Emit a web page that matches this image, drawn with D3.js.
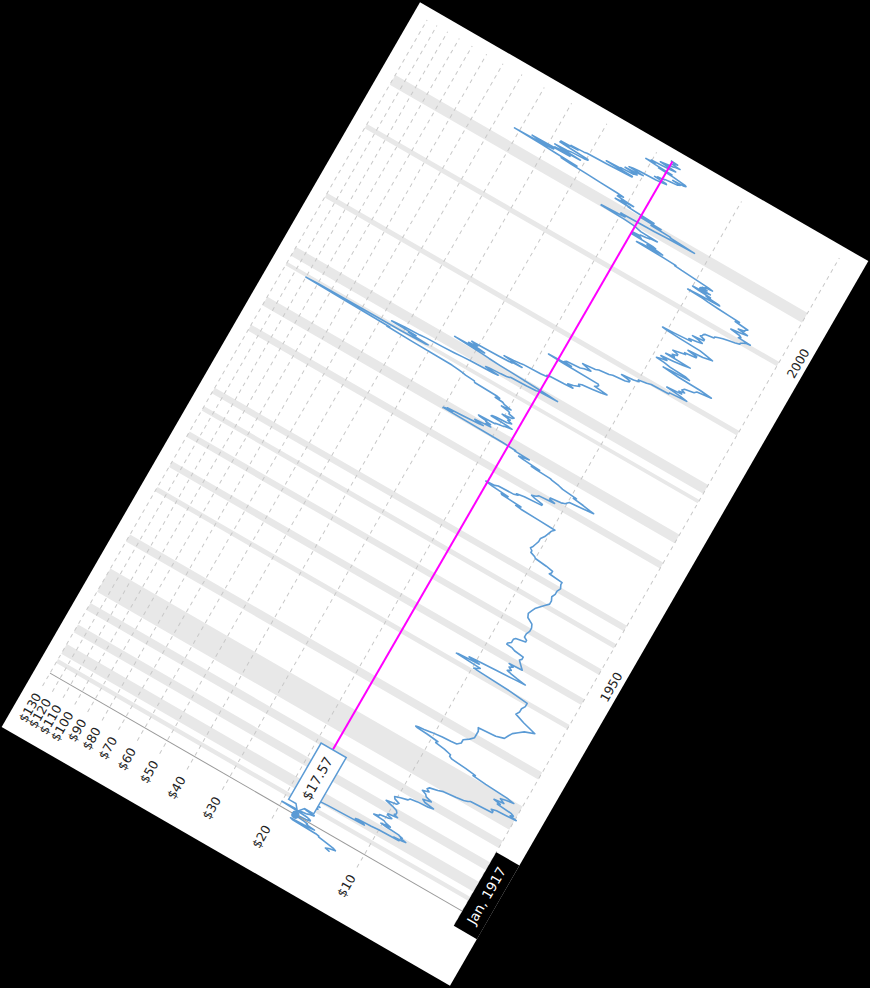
<!DOCTYPE html>
<html><head><meta charset="utf-8">
<script src="https://cdn.jsdelivr.net/npm/d3@7"></script>
<style>html,body{margin:0;padding:0;background:#000;overflow:hidden}</style>
</head><body>
<svg id="c" width="870" height="988"></svg>
<script>
const dates = [
"1915-01","1915-03","1915-05","1915-07","1915-09","1915-11",
"1916-01","1916-02","1916-03","1916-04","1916-05","1916-06","1916-07","1916-08","1916-09","1916-10","1916-11","1916-12",
"1917-01","1917-02","1917-03","1917-04","1917-05","1917-06","1917-07","1917-08","1917-09","1917-10","1917-11","1917-12",
"1918-01","1918-02","1918-03","1918-04","1918-05","1918-06","1918-07","1918-08","1918-09","1918-10","1918-11","1918-12",
"1919-01","1919-03","1919-05","1919-06","1919-07","1919-08","1919-09","1919-10","1919-11","1919-12",
"1920-01","1920-02","1920-03","1920-04","1920-05","1920-06","1920-07","1920-08","1920-09","1920-10","1920-11","1920-12",
"1921-01","1921-02","1921-03","1921-04","1921-05","1921-06","1921-07","1921-08","1921-09","1921-10","1921-11","1921-12",
"1922-02","1922-04","1922-05","1922-07","1922-09","1922-11",
"1923-01","1923-03","1923-05","1923-07","1923-09","1923-11",
"1924-01","1924-04","1924-07","1924-10",
"1925-01","1925-04","1925-07","1925-10",
"1926-01","1926-04","1926-07","1926-09","1926-10","1926-12",
"1927-02","1927-05","1927-08","1927-11",
"1928-02","1928-05","1928-08","1928-11",
"1929-02","1929-05","1929-08","1929-10","1929-12",
"1930-02","1930-04","1930-06","1930-08","1930-10","1930-12",
"1931-01","1931-02","1931-04","1931-06","1931-08","1931-10","1931-12",
"1932-02","1932-04","1932-06","1932-08","1932-10","1932-12",
"1933-02","1933-04","1933-06","1933-08","1933-10","1933-12",
"1934-02","1934-05","1934-08","1934-10","1934-12",
"1935-01","1935-03","1935-04","1935-05","1935-06","1935-07","1935-09","1935-11","1935-12",
"1936-01","1936-06","1936-12",
"1937-06","1937-12",
"1938-06","1938-12",
"1939-05","1939-07","1939-11",
"1940-06","1940-12",
"1941-06","1941-12",
"1942-06","1942-12",
"1943-06","1943-12",
"1944-06","1944-12",
"1945-06","1945-09","1945-12",
"1946-02","1946-05","1946-07","1946-08","1946-10","1946-12",
"1947-01","1947-03","1947-05","1947-06","1947-08","1947-10","1947-12",
"1948-03","1948-06","1948-09","1948-11","1948-12",
"1949-03","1949-06","1949-09","1949-12",
"1950-03","1950-07","1950-09","1950-11","1950-12",
"1951-02","1951-06","1951-09","1951-12",
"1952-03","1952-06","1952-09","1952-12",
"1953-06","1953-12",
"1954-06","1954-12",
"1955-06","1955-12",
"1956-06","1956-12",
"1957-06","1957-12",
"1958-06","1958-12",
"1959-06","1959-12",
"1960-06","1960-12",
"1961-06","1961-10","1961-12",
"1962-03","1962-06","1962-08","1962-10","1962-12",
"1963-03","1963-06","1963-09","1963-12",
"1964-06","1964-12",
"1965-06","1965-12",
"1966-06","1966-12",
"1967-03","1967-05","1967-06","1967-07","1967-08","1967-10","1967-12",
"1968-01","1968-02","1968-04","1968-06","1968-07","1968-09","1968-10","1968-12",
"1969-01","1969-03","1969-05","1969-07","1969-09","1969-11",
"1970-01","1970-04","1970-06","1970-08","1970-10","1970-12",
"1971-02","1971-05","1971-07","1971-09","1971-11","1971-12",
"1972-02","1972-04","1972-06","1972-08","1972-10","1972-12",
"1973-01","1973-02","1973-03","1973-04","1973-05","1973-06","1973-07","1973-08","1973-09","1973-10","1973-11","1973-12",
"1974-01","1974-02","1974-03","1974-04","1974-05","1974-06","1974-07","1974-08","1974-09","1974-10","1974-11","1974-12",
"1975-01","1975-02","1975-03","1975-04","1975-05","1975-06","1975-07","1975-08","1975-09","1975-10","1975-11","1975-12",
"1976-01","1976-03","1976-04","1976-05","1976-06","1976-07","1976-08","1976-10","1976-12",
"1977-02","1977-04","1977-06","1977-08","1977-10","1977-12",
"1978-01","1978-03","1978-05","1978-07","1978-09","1978-10","1978-12",
"1979-01","1979-02","1979-03","1979-04","1979-05","1979-06","1979-07","1979-08","1979-09","1979-10","1979-11","1979-12",
"1980-01","1980-02","1980-03","1980-04","1980-05","1980-06","1980-07","1980-08","1980-09","1980-10","1980-11","1980-12",
"1981-01","1981-02","1981-03","1981-04","1981-05","1981-06","1981-07","1981-08","1981-09","1981-10","1981-11","1981-12",
"1982-01","1982-02","1982-03","1982-04","1982-05","1982-06","1982-07","1982-08","1982-09","1982-10","1982-11","1982-12",
"1983-01","1983-02","1983-03","1983-04","1983-05","1983-06","1983-07","1983-08","1983-09","1983-10","1983-11","1983-12",
"1984-01","1984-02","1984-03","1984-04","1984-05","1984-06","1984-07","1984-08","1984-09","1984-10","1984-11","1984-12",
"1985-01","1985-03","1985-05","1985-07","1985-09","1985-11",
"1986-01","1986-03","1986-05","1986-07","1986-09","1986-11",
"1987-01","1987-03","1987-04","1987-05","1987-06","1987-07","1987-09","1987-11",
"1988-01","1988-03","1988-05","1988-07","1988-09","1988-11",
"1989-01","1989-03","1989-05","1989-07","1989-09","1989-11",
"1990-01","1990-03","1990-05","1990-07","1990-09","1990-10","1990-12",
"1991-02","1991-04","1991-06","1991-08","1991-10","1991-12",
"1992-02","1992-05","1992-08","1992-11",
"1993-02","1993-04","1993-05","1993-07","1993-08","1993-09","1993-11","1993-12",
"1994-02","1994-03","1994-05","1994-07","1994-09","1994-11",
"1995-01","1995-03","1995-04","1995-06","1995-08","1995-10","1995-12",
"1996-02","1996-04","1996-06","1996-08","1996-10","1996-12",
"1997-02","1997-04","1997-07","1997-09","1997-11","1997-12",
"1998-01","1998-02","1998-03","1998-05","1998-07","1998-09","1998-11",
"1999-01","1999-02","1999-04","1999-06","1999-08","1999-10","1999-12",
"2000-02","2000-04","2000-06","2000-08","2000-10","2000-12",
"2001-02","2001-04","2001-06","2001-08","2001-10","2001-11","2001-12",
"2002-02","2002-04","2002-06","2002-08","2002-10","2002-12",
"2003-02","2003-04","2003-06","2003-08","2003-10","2003-11","2003-12",
"2004-01","2004-02","2004-03","2004-04","2004-05","2004-06","2004-07","2004-08","2004-09","2004-10","2004-11","2004-12",
"2005-01","2005-02","2005-03","2005-04","2005-05","2005-06","2005-07","2005-08","2005-09","2005-10","2005-11","2005-12",
"2006-01","2006-02","2006-03","2006-04","2006-05","2006-06","2006-07","2006-08","2006-09","2006-10","2006-11","2006-12",
"2007-01","2007-02","2007-03","2007-04","2007-05","2007-06","2007-07","2007-08","2007-09","2007-10","2007-11","2007-12",
"2008-01","2008-02","2008-03","2008-04","2008-05","2008-06","2008-07","2008-08","2008-09","2008-10","2008-11","2008-12",
"2009-01","2009-02","2009-03","2009-04","2009-05","2009-06","2009-07","2009-08","2009-09","2009-10","2009-11","2009-12",
"2010-01","2010-02","2010-03","2010-04","2010-05","2010-06","2010-07","2010-08","2010-09","2010-10","2010-11","2010-12",
"2011-01","2011-02","2011-03","2011-04","2011-05","2011-06","2011-07","2011-08","2011-09","2011-10","2011-11","2011-12",
"2012-01","2012-02","2012-03","2012-04","2012-05","2012-06","2012-07","2012-08","2012-09","2012-10","2012-11","2012-12",
"2013-01","2013-02","2013-03","2013-04","2013-05","2013-06","2013-07","2013-08","2013-09","2013-10","2013-11","2013-12",
"2014-01","2014-02","2014-03","2014-04","2014-05","2014-06","2014-07","2014-08","2014-09","2014-10","2014-11","2014-12",
"2015-01","2015-02","2015-03","2015-04","2015-05","2015-06","2015-07","2015-08","2015-09","2015-10","2015-11","2015-12",
"2016-01","2016-02","2016-03","2016-04","2016-05","2016-06","2016-07","2016-08","2016-09","2016-10","2016-11","2016-12",
"2017-01","2017-02","2017-03","2017-04","2017-05","2017-06","2017-07","2017-08","2017-09","2017-10","2017-11","2017-12"
];
const prices = [
12.5,13.0,12.7,12.1,12.4,13.2,
14.1,14.1,14.5,17.6,17.9,15.6,14.8,15.6,15.9,15.8,16.3,17.2,
17.57,17.3,16.2,15.7,15.7,15.9,16.2,17.5,20.0,17.3,16.5,16.3,
16.1,15.6,15.6,16.7,17.1,16.9,16.6,16.7,16.5,16.3,16.2,16.1,
16.0,15.6,16.1,16.3,15.5,16.2,16.5,17.0,17.9,18.4,
17.4,16.7,16.0,14.9,12.7,11.1,11.2,12.0,11.8,10.6,10.0,8.5,
8.9,8.3,8.1,8.3,8.5,8.4,8.6,8.7,9.6,10.1,9.8,9.4,
9.8,10.0,10.9,10.5,10.5,9.8,
9.6,10.0,10.0,9.3,9.6,9.5,
9.5,9.6,10.0,10.6,
9.8,9.7,10.1,10.2,
9.8,9.3,9.2,8.7,8.0,7.7,
8.3,8.5,8.0,8.4,
8.5,8.8,8.4,8.6,
8.5,8.0,7.7,7.0,6.6,
6.4,6.3,5.3,5.3,5.4,5.2,
4.8,4.45,4.7,4.6,4.7,5.3,5.2,
5.5,5.1,5.2,5.3,5.1,4.8,
5.1,6.1,6.8,6.7,7.3,8.2,
8.4,8.4,8.9,9.6,9.6,
9.5,10.4,11.3,11.5,11.3,10.8,10.2,9.4,8.8,
8.4,8.2,8.2,
7.9,7.7,
7.7,7.7,
7.8,6.8,6.4,
6.3,6.2,
6.0,5.8,
5.4,6.0,
6.5,6.4,
6.4,6.3,
6.3,7.3,9.9,
9.7,9.5,11.6,11.4,9.7,10.6,
10.1,8.6,7.4,6.8,7.3,7.7,8.0,
7.8,8.0,7.8,8.1,7.3,
7.4,7.5,7.6,7.7,
7.6,7.6,8.2,8.4,8.8,
8.8,8.6,8.6,8.6,
8.5,7.9,7.9,8.1,
8.1,8.0,
8.0,8.1,
8.5,8.6,
8.5,8.4,
8.2,8.0,
7.8,7.8,
7.9,7.8,
7.8,7.7,
7.8,7.8,8.7,
8.6,8.6,9.1,10.0,10.1,
10.5,10.5,10.7,10.6,
10.5,10.4,
10.4,10.2,
10.1,10.0,
9.9,9.8,11.3,13.0,13.6,13.1,15.4,
15.5,14.7,16.8,17.8,16.6,16.2,14.3,13.9,
14.1,13.3,11.6,11.6,12.4,12.8,
12.4,12.2,10.8,11.3,11.3,10.4,
10.1,10.0,9.9,9.0,8.2,8.5,
9.0,9.8,9.6,10.8,11.2,11.9,
12.1,13.5,14.2,13.3,14.4,15.4,15.9,15.4,15.2,14.7,16.6,16.5,
18.4,30.0,29.7,27.9,29.2,26.4,24.6,22.8,22.0,23.3,23.7,22.5,
20.9,21.8,21.2,21.1,22.0,21.9,23.2,23.5,20.6,20.6,20.0,19.4,
19.3,18.2,19.1,21.7,21.6,21.0,19.2,18.6,19.3,
19.0,20.4,18.9,18.7,19.6,19.6,
19.8,21.1,19.6,20.8,21.2,22.6,21.9,
22.4,27.0,27.1,27.2,29.3,30.1,31.2,33.0,46.6,56.4,55.2,76.4,
110,100,51,42,41,46.5,48.4,45.6,55.8,54,50.2,44.6,
42.4,37.2,34.0,31.8,29.7,25.0,24.0,25.5,26.7,26.0,23.8,22.7,
22.2,22.1,19.4,18.0,17.7,15.2,16.4,18.4,21.2,24.6,26.9,28.5,
32.2,35.9,28.2,29.6,32.3,30.3,30.2,30.9,31.8,25.7,23.0,23.3,
21.3,23.6,24.8,23.0,21.9,21.4,18.6,17.9,17.5,17.8,17.5,15.5,
14.5,15.2,14.6,14.3,14.0,14.2,
13.9,12.8,12.0,11.5,12.8,12.6,
12.5,12.6,16.8,19.0,15.8,16.8,16.6,14.9,
14.5,13.8,14.3,14.9,13.5,13.2,
12.2,11.9,10.8,10.5,10.5,11.3,
10.3,9.9,10.0,9.4,9.1,7.9,7.9,
6.9,7.3,8.2,7.3,7.5,7.2,
7.4,7.3,6.8,6.7,
6.0,6.6,7.9,9.0,8.4,7.3,7.6,8.6,
9.1,9.7,9.4,9.0,9.5,8.6,
8.0,7.6,9.3,8.7,8.9,8.6,8.6,
9.0,8.6,8.2,8.3,7.6,7.6,
8.2,7.3,6.8,7.2,7.6,9.0,
10.0,10.4,9.5,8.3,8.5,8.0,7.7,
8.0,8.4,7.7,7.7,8.0,7.9,7.9,
7.8,7.3,7.3,7.1,6.9,6.6,
6.3,6.1,6.1,6.0,5.9,5.7,6.3,
6.2,6.3,6.8,6.3,6.0,6.5,
6.2,6.2,6.1,6.8,6.6,7.2,7.9,
8.6,9.0,10.2,9.4,7.9,8.0,8.7,8.9,8.6,9.5,10.0,9.0,
8.7,9.5,9.5,9.0,9.4,9.2,9.2,8.7,9.0,9.6,10.4,11.3,
12.0,11.9,13.2,16.5,15.8,13.4,14.0,15.3,14.3,14.7,17.5,16.2,
16.9,17.6,16.4,16.5,15.8,15.4,15.3,14.5,16.6,17.0,17.4,17.8,
19.2,23.3,23.3,20.4,19.3,19.7,20.1,15.3,13.9,11.1,12.2,13.6,
13.6,16.0,15.6,14.8,17.6,16.3,15.8,17.5,19.6,19.3,21.9,20.1,
21.0,19.0,20.4,21.8,21.4,21.7,20.9,22.1,25.4,28.5,32.6,35.2,
31.0,37.0,41.5,52.0,41.0,38.0,43.0,45.5,33.5,38.0,36.0,31.0,
35.9,38.4,34.8,33.8,30.5,29.6,29.7,33.7,37.5,34.9,37.4,32.6,
34.6,31.2,30.5,25.9,23.8,21.3,21.3,26.4,23.3,23.6,21.3,21.2,
20.8,23.0,21.2,20.8,20.0,22.5,21.9,20.9,18.2,17.6,16.8,16.9,
18.6,17.9,18.2,17.3,17.3,16.6,15.7,15.6,15.4,16.4,15.0,14.8,
15.0,15.9,16.5,18.7,16.8,19.3,20.9,19.4,20.1,18.4,17.2,16.6,
17.5,18.9,18.4,17.7,17.1,16.9,16.3,17.4,17.1,17.3,16.8,17.8
];
const recessionStarts = ["1918-08","1920-01","1923-05","1926-10","1929-08","1937-05","1945-02","1948-11","1953-07","1957-08","1960-04","1969-12","1973-11","1980-01","1981-07","1990-07","2001-03","2007-12"];
const recessionEnds   = ["1919-03","1921-07","1924-07","1927-11","1933-03","1938-06","1945-10","1949-10","1954-05","1958-04","1961-02","1970-11","1975-03","1980-07","1982-11","1991-03","2001-11","2009-06"];
const priceTicks = [10,20,30,40,50,60,70,80,90,100,110,120,130];
const yearTicks = [1950, 2000];
const cursorDate = "1917-01";
const cursorLabel = "Jan, 1917";
const cursorValue = 17.57;

(function () {
const W = 836.7, H = 517.7;
const mLeft = 55.8, mTop = 15, pw = 769.2, ph = 476;
const parse = d3.timeParse("%Y-%m");
const data = dates.map((d, i) => ({date: parse(d), value: prices[i]}));

const x = d3.scaleTime().domain(d3.extent(data, d => d.date)).range([0, pw]);
const y = d3.scaleLog().domain([4.5, 130]).range([ph, 0]);

const svg = d3.select("#c");
svg.append("rect").attr("width", 870).attr("height", 988).attr("fill", "#000");
const chart = svg.append("g").attr("transform", `translate(435,494) rotate(-60) translate(${-W/2},${-H/2})`);
chart.append("rect").attr("width", W).attr("height", H).attr("fill", "#fff");
const g = chart.append("g").attr("transform", `translate(${mLeft},${mTop})`);
const font = "'DejaVu Sans', Verdana, sans-serif";

g.selectAll("rect.band").data(recessionStarts.map((s, i) => [parse(s), parse(recessionEnds[i])]))
  .join("rect").attr("class", "band")
  .attr("x", d => x(d[0])).attr("width", d => x(d[1]) - x(d[0]))
  .attr("y", 0).attr("height", ph).attr("fill", "#e8e8e8");

g.selectAll("line.grid").data(priceTicks).join("line").attr("class", "grid")
  .attr("x1", 0).attr("x2", pw).attr("y1", d => y(d)).attr("y2", d => y(d))
  .attr("stroke", "#c8c8c8").attr("stroke-dasharray", "4,4");
g.append("line").attr("x1", 0).attr("x2", pw).attr("y1", ph).attr("y2", ph)
  .attr("stroke", "#c8c8c8").attr("stroke-dasharray", "4,4");

g.selectAll("text.ylab").data(priceTicks).join("text").attr("class", "ylab")
  .attr("x", -9).attr("y", d => y(d)).attr("dy", "0.35em")
  .attr("text-anchor", "end").attr("font-family", font).attr("font-size", 12.5).attr("fill", "#222")
  .text(d => "$" + d);

g.selectAll("text.xlab").data(yearTicks).join("text").attr("class", "xlab")
  .attr("x", d => x(new Date(d, 0, 1)) + 22).attr("y", ph + 17).attr("dy", "0.35em")
  .attr("text-anchor", "middle").attr("font-family", font).attr("font-size", 12.5).attr("fill", "#222")
  .text(d => d);

g.append("path").datum(data)
  .attr("d", d3.line().x(d => x(d.date)).y(d => y(d.value)))
  .attr("fill", "none").attr("stroke", "#5b9bd5").attr("stroke-width", 1.6).attr("stroke-linejoin", "round");

const cx = x(parse(cursorDate)), cy = y(cursorValue);
g.append("line").attr("x1", cx).attr("x2", cx).attr("y1", 0).attr("y2", ph).attr("stroke", "#999").attr("stroke-width", 1);
const bx = cx + 10, bw = 65, bh = 29;
g.append("line").attr("x1", bx + bw).attr("x2", pw).attr("y1", cy).attr("y2", cy).attr("stroke", "#ff00ff").attr("stroke-width", 2);
g.append("circle").attr("cx", cx).attr("cy", cy).attr("r", 4).attr("fill", "#5b9bd5");
const by = cy - bh/2 + 1;
g.append("path")
  .attr("d", `M${bx},${by} H${bx+bw} V${by+bh} H${bx} V${cy+5} L${cx+4},${cy} L${bx},${cy-5} Z`)
  .attr("fill", "#fff").attr("stroke", "#5b9bd5").attr("stroke-width", 1.5);
g.append("text").attr("x", bx + bw/2).attr("y", by + bh/2).attr("dy", "0.35em")
  .attr("text-anchor", "middle").attr("font-family", font).attr("font-size", 13.5).attr("fill", "#222")
  .text("$" + cursorValue.toFixed(2));

const cbw = 85, cbx = Math.max(-2, cx - cbw/2);
g.append("rect").attr("x", cbx).attr("y", ph).attr("width", cbw).attr("height", H - mTop - ph).attr("fill", "#000");
g.append("text").attr("x", cbx + cbw/2).attr("y", ph + (H - mTop - ph)/2).attr("dy", "0.35em")
  .attr("text-anchor", "middle").attr("font-family", font).attr("font-size", 13.5).attr("fill", "#fff")
  .text(cursorLabel);
})();
</script>
</body></html>
